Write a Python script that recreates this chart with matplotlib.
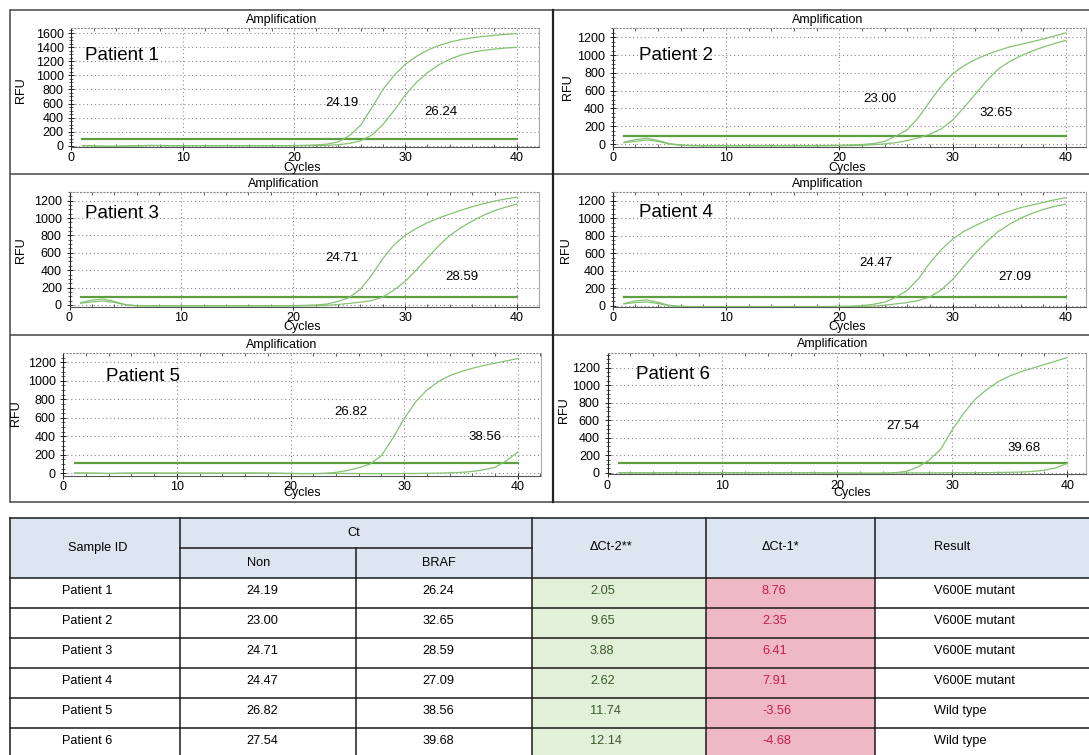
import matplotlib
matplotlib.use('Agg')
import matplotlib.pyplot as plt
from matplotlib.ticker import MultipleLocator
from matplotlib.patches import Rectangle

plt.rcParams['font.family'] = ['Liberation Sans', 'DejaVu Sans']

W, H = 1089, 755

# ---------------- data ----------------
cycles = list(range(1, 41))
patients = ['Patient 1', 'Patient 2', 'Patient 3', 'Patient 4', 'Patient 5', 'Patient 6']

p1_non = [0, -4, -10, -9, -6, -2, 3, 2, 0, 0, 0, 1, 0, 0, 0, 1, 0, 0, 0, 2,
          5, 10, 22, 55, 145, 290, 540, 800, 1000, 1160, 1270, 1360, 1425, 1475, 1510, 1535, 1555, 1570, 1585, 1595]
p1_braf = [0, -3, -8, -8, -5, -2, 2, 2, 0, 0, 0, 0, 0, 0, 0, 0, 0, 0, 0, 0,
           1, 2, 5, 14, 32, 70, 150, 300, 500, 720, 900, 1040, 1150, 1230, 1290, 1330, 1355, 1375, 1390, 1400]
p2_non = [20, 50, 65, 40, 5, -12, -16, -18, -18, -18, -18, -18, -18, -18, -18, -18, -18, -17, -16, -14,
          -10, -5, 5, 30, 90, 160, 300, 480, 650, 790, 880, 950, 1005, 1050, 1090, 1120, 1150, 1180, 1215, 1250]
p2_braf = [15, 30, 45, 30, 0, -15, -19, -20, -20, -20, -20, -20, -20, -20, -20, -20, -20, -20, -20, -19,
           -18, -15, -8, 2, 15, 40, 70, 110, 170, 270, 410, 560, 710, 840, 925, 990, 1045, 1090, 1130, 1165]
p3_non = [27, 55, 68, 40, 5, -8, -10, -10, -10, -10, -10, -10, -10, -10, -10, -10, -10, -10, -9, -8,
          -5, 0, 10, 40, 85, 180, 340, 530, 690, 800, 880, 945, 1000, 1045, 1090, 1130, 1165, 1195, 1220, 1240]
p3_braf = [20, 35, 45, 30, 0, -10, -12, -12, -12, -12, -12, -12, -12, -12, -12, -12, -12, -12, -12, -12,
           -11, -10, -5, 5, 18, 32, 50, 90, 170, 270, 400, 540, 680, 800, 890, 965, 1030, 1085, 1125, 1160]
p4_non = [25, 55, 65, 38, 3, -8, -10, -10, -10, -10, -10, -10, -10, -10, -10, -10, -10, -10, -9, -8,
          -5, 0, 15, 40, 95, 175, 310, 490, 640, 760, 850, 915, 975, 1035, 1080, 1120, 1150, 1180, 1210, 1235]
p4_braf = [20, 35, 42, 25, -2, -10, -12, -12, -12, -12, -12, -12, -12, -12, -12, -12, -12, -12, -12, -12,
           -11, -10, -5, 5, 20, 35, 60, 100, 180, 300, 450, 600, 730, 845, 930, 1000, 1055, 1100, 1135, 1160]
p5_non = [3, 2, 0, -2, 0, 2, 3, 3, 2, 2, 2, 2, 2, 2, 2, 3, 3, 2, 0, -2,
          -3, -3, 0, 10, 30, 60, 100, 190, 380, 590, 770, 900, 990, 1055, 1100, 1135, 1165, 1190, 1215, 1240]
p5_braf = [2, 1, 0, -2, -1, 0, 1, 1, 0, 0, 0, 0, 0, 0, 0, 0, 0, 0, -1, -2,
           -3, -3, -2, -2, -2, -3, -4, -4, -4, -3, -2, 0, 2, 5, 10, 20, 38, 65, 135, 230]
p6_non = [0, -2, -3, -3, -2, -1, 0, 0, 0, 1, 1, 0, 0, 0, 0, 0, 0, -2, -4, -5,
          -6, -8, -10, -8, 0, 15, 65, 145, 270, 490, 680, 840, 950, 1040, 1105, 1155, 1195, 1235, 1275, 1315]
p6_braf = [-1, -2, -2, -2, -1, 0, 0, 0, 0, 0, 0, 0, 0, 0, 0, 0, 0, -1, -2, -3,
           -3, -4, -4, -4, -3, -3, -2, -2, -1, 0, 0, 0, 1, 2, 4, 7, 14, 28, 55, 105]
thresholds = [90, 94, 91, 100, 108, 107]

ct_non = ['24.19', '23.00', '24.71', '24.47', '26.82', '27.54']
ct_braf = ['26.24', '32.65', '28.59', '27.09', '38.56', '39.68']
dct2 = ['2.05', '9.65', '3.88', '2.62', '11.74', '12.14']
dct1 = ['8.76', '2.35', '6.41', '7.91', '-3.56', '-4.68']
results = ['V600E mutant', 'V600E mutant', 'V600E mutant', 'V600E mutant', 'Wild type', 'Wild type']

non_series = [p1_non, p2_non, p3_non, p4_non, p5_non, p6_non]
braf_series = [p1_braf, p2_braf, p3_braf, p4_braf, p5_braf, p6_braf]

# ---------------- layout (pixels) ----------------
# axes rect: L, T, R, B ; limits
panels = [
    dict(rect=(71.3, 28.3, 538.8, 146.7), xlim=(0, 42.0), ylim=(-15, 1671), ymax=1600,
         pat=(1.2, 1290), a1=(24.3, 604), a2=(33.2, 484),
         title=(281.5, 20), cyc=(302.4, 168.3), rfu=(21, 90)),
    dict(rect=(612.7, 28.3, 1086.3, 146.7), xlim=(0, 41.8), ylim=(-30, 1301), ymax=1200,
         pat=(2.3, 1000), a1=(23.55, 503), a2=(33.8, 345),
         title=(827.8, 20), cyc=(847, 168.3), rfu=(567.6, 87)),
    dict(rect=(69.5, 191.7, 538.8, 306.7), xlim=(0, 41.96), ylim=(-20, 1303), ymax=1200,
         pat=(1.4, 1054), a1=(24.4, 537), a2=(35.1, 318),
         title=(283.3, 184), cyc=(302.4, 326.7), rfu=(21, 250)),
    dict(rect=(612.7, 191.7, 1086.3, 306.7), xlim=(0, 41.8), ylim=(-12, 1303), ymax=1200,
         pat=(2.3, 1063), a1=(23.25, 485), a2=(35.5, 325),
         title=(827.8, 184), cyc=(847, 326.7), rfu=(566.5, 250)),
    dict(rect=(63.3, 353.3, 540.5, 475.7), xlim=(0, 42.0), ylim=(-26, 1297), ymax=1200,
         pat=(3.75, 1044), a1=(25.3, 666), a2=(37.1, 396),
         title=(281.5, 345), cyc=(302.4, 493.3), rfu=(15.6, 413)),
    dict(rect=(607.5, 352.7, 1086.3, 474.0), xlim=(0, 41.66), ylim=(-15, 1371), ymax=1200,
         pat=(2.5, 1117), a1=(25.7, 534), a2=(36.2, 279),
         title=(833, 344), cyc=(852, 493.3), rfu=(564, 410)),
]

curve_color = '#86c273'
thr_color = '#5c9e40'

fig = plt.figure(figsize=(W / 100, H / 100), dpi=100)

bg = fig.add_axes([0, 0, 1, 1], zorder=0)
bg.set_xlim(0, W)
bg.set_ylim(H, 0)
bg.axis('off')

# panel frames
frame_c = '#444444'
for y in (10, 173.8, 334.5, 501.7):
    bg.plot([10, W], [y, y], color=frame_c, lw=1.1, solid_capstyle='butt')
bg.plot([10, 10], [10, 501.7], color=frame_c, lw=1.1)
bg.plot([552.5, 552.5], [10, 501.7], color='#222222', lw=1.6)

for i, p in enumerate(panels):
    L, T, R, B = p['rect']
    ax = fig.add_axes([L / W, 1 - B / H, (R - L) / W, (B - T) / H], zorder=2)
    ax.set_xlim(*p['xlim'])
    ax.set_ylim(*p['ylim'])
    ax.plot([cycles[0], cycles[-1]], [thresholds[i], thresholds[i]], color=thr_color, lw=1.6, zorder=3)
    ax.plot(cycles, non_series[i], color=curve_color, lw=0.9, zorder=4)
    ax.plot(cycles, braf_series[i], color=curve_color, lw=0.9, zorder=4)

    ax.xaxis.set_major_locator(MultipleLocator(10))
    ax.xaxis.set_minor_locator(MultipleLocator(2))
    ax.set_yticks(list(range(0, p['ymax'] + 1, 200)))
    ax.yaxis.set_minor_locator(MultipleLocator(50))
    ax.grid(True, which='major', color='#8a8a8a', linestyle=(0, (1, 2.5)), lw=0.8)
    ax.tick_params(axis='both', which='major', direction='inout', length=5, width=0.7,
                   labelsize=9, colors='#222222')
    ax.tick_params(axis='y', which='major', pad=3)
    ax.tick_params(axis='x', which='major', pad=1.5)
    ax.tick_params(axis='both', which='minor', direction='inout', length=3, width=0.6, colors='#444444')
    ax.tick_params(axis='x', which='minor', top=True, direction='in', length=2)
    for lab in ax.get_xticklabels() + ax.get_yticklabels():
        lab.set_color('black')
    ax.spines['left'].set_color('#222222')
    ax.spines['left'].set_lw(0.8)
    ax.spines['bottom'].set_color('#555555')
    ax.spines['bottom'].set_lw(0.8)
    ax.spines['top'].set_color('#888888')
    ax.spines['top'].set_linestyle((0, (1, 2)))
    ax.spines['top'].set_lw(0.8)
    ax.spines['right'].set_color('#aaaaaa')
    ax.spines['right'].set_lw(0.8)

    ax.text(p['pat'][0], p['pat'][1], patients[i], fontsize=13.5, ha='left', va='center', zorder=6)
    ax.text(p['a1'][0], p['a1'][1], ct_non[i], fontsize=9.5, ha='center', va='center', zorder=6)
    ax.text(p['a2'][0], p['a2'][1], ct_braf[i], fontsize=9.5, ha='center', va='center', zorder=6)

    bg.text(p['title'][0], p['title'][1], 'Amplification', fontsize=9, ha='center', va='center')
    bg.text(p['cyc'][0], p['cyc'][1], 'Cycles', fontsize=9, ha='center', va='center')
    bg.text(p['rfu'][0], p['rfu'][1], 'RFU', fontsize=9, ha='center', va='center', rotation=90)

# ---------------- table ----------------
col_x = [10, 180, 356.3, 531.8, 705.6, 875.1, 1095]
row_y = [518.3, 548.3, 578.3, 608.3, 638.3, 668.3, 698.3, 728.3, 758.3]
hdr_fill = '#dde5f1'
green_fill = '#e2efd9'
pink_fill = '#efb8c5'
green_txt = '#3a5a27'
red_txt = '#c41e4a'
line_c = '#1a1a1a'

bg.add_patch(Rectangle((col_x[0], row_y[0]), col_x[-1] - col_x[0], row_y[2] - row_y[0],
                       facecolor=hdr_fill, edgecolor='none'))
bg.add_patch(Rectangle((col_x[3], row_y[2]), col_x[4] - col_x[3], row_y[-1] - row_y[2],
                       facecolor=green_fill, edgecolor='none'))
bg.add_patch(Rectangle((col_x[4], row_y[2]), col_x[5] - col_x[4], row_y[-1] - row_y[2],
                       facecolor=pink_fill, edgecolor='none'))

# horizontal lines
bg.plot([col_x[0], col_x[-1]], [row_y[0], row_y[0]], color=line_c, lw=1.1)
bg.plot([col_x[1], col_x[3]], [row_y[1], row_y[1]], color=line_c, lw=1.1)
for y in row_y[2:]:
    bg.plot([col_x[0], col_x[-1]], [y, y], color=line_c, lw=1.1)
# vertical lines
for j, x in enumerate(col_x[:-1]):
    y0 = row_y[1] if j == 2 else row_y[0]
    bg.plot([x, x], [y0, row_y[-1]], color=line_c, lw=1.1)

fs = 9.2
bg.text(98, 547.5, 'Sample ID', fontsize=fs, ha='center', va='center')
bg.text(354, 532.5, 'Ct', fontsize=fs, ha='center', va='center')
bg.text(246.8, 562.5, 'Non', fontsize=fs, ha='left', va='center')
bg.text(422.3, 562.5, 'BRAF', fontsize=fs, ha='left', va='center')
bg.text(590, 547.5, '\u0394Ct-2**', fontsize=fs, ha='left', va='center')
bg.text(762, 547.5, '\u0394Ct-1*', fontsize=fs, ha='left', va='center')
bg.text(933.6, 547.5, 'Result', fontsize=fs, ha='left', va='center')

for r in range(6):
    yc = row_y[r + 2] + 12.5
    bg.text(87, yc, patients[r], fontsize=fs, ha='center', va='center')
    bg.text(246.8, yc, ct_non[r], fontsize=fs, ha='left', va='center')
    bg.text(422.3, yc, ct_braf[r], fontsize=fs, ha='left', va='center')
    bg.text(590, yc, dct2[r], fontsize=fs, ha='left', va='center', color=green_txt)
    bg.text(762, yc, dct1[r], fontsize=fs, ha='left', va='center', color=red_txt)
    bg.text(933.6, yc, results[r], fontsize=fs, ha='left', va='center')

fig.savefig('out.png', dpi=100)
